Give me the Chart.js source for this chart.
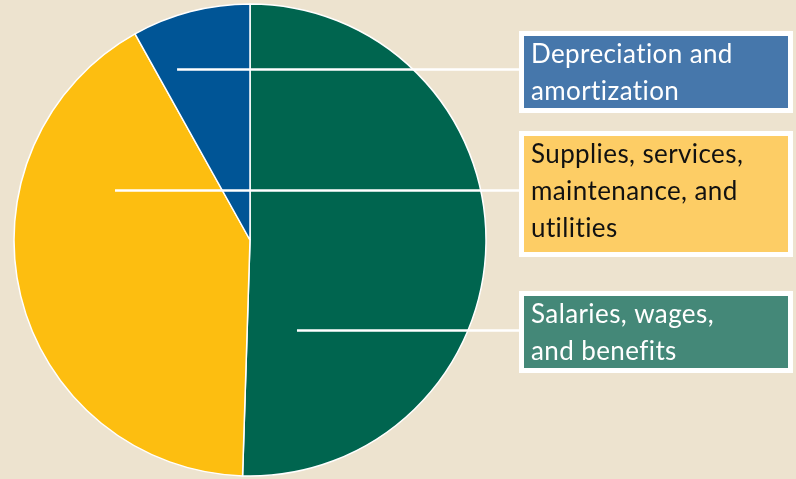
<!DOCTYPE html>
<html>
<head>
<meta charset="utf-8">
<script src="https://cdn.jsdelivr.net/npm/chart.js@4.4.1/dist/chart.umd.min.js"></script>
<style>
html, body { margin: 0; padding: 0; background: #ede3cf; overflow: hidden; }
#graph1 { display: block; }
</style>
</head>
<body>
<canvas id="graph1" width="796" height="479"></canvas>
<script>
// data (share of expenses, %)
var categories = [
    ['Salaries, wages,', 'and benefits'],
    ['Supplies, services,', 'maintenance, and', 'utilities'],
    ['Depreciation and', 'amortization']
];
var values = [50.5, 41.4, 8.1];

var sliceColors = ['#00654f', '#fdbe10', '#005596'];
var boxColors = ['#448878', '#fdcd65', '#4677ab'];
var textColors = ['#ffffff', '#111111', '#ffffff'];

// where the leader line starts inside each slice (relative to center, in radii) and box placement
var leaderStart = [[0.199, 0.381], [-0.572, -0.21], [-0.309, -0.725]];
var boxTop = [291, 131, 31];
var boxHeight = [82, 126, 82];

var calloutPlugin = {
    id: 'callouts',
    afterDraw: function (chart) {
        var c = chart.ctx;
        var arc = chart.getDatasetMeta(0).data[0];
        var cx = arc.x, cy = arc.y, r = arc.outerRadius;
        var boxLeft = 519, boxRight = 793, border = 5;
        c.save();
        for (var i = 0; i < values.length; i++) {
            var x0 = cx + leaderStart[i][0] * r;
            var y0 = Math.round(cy + leaderStart[i][1] * r) + 0.5;
            c.strokeStyle = '#ffffff';
            c.lineWidth = 2.5;
            c.beginPath();
            c.moveTo(x0, y0);
            c.lineTo(boxLeft, y0);
            c.stroke();

            c.fillStyle = '#ffffff';
            c.fillRect(boxLeft, boxTop[i], boxRight - boxLeft, boxHeight[i]);
            c.fillStyle = boxColors[i];
            c.fillRect(boxLeft + border, boxTop[i] + border, boxRight - boxLeft - 2 * border, boxHeight[i] - 2 * border);

            c.fillStyle = textColors[i];
            c.font = '26px Lato, "Open Sans", sans-serif';
            c.letterSpacing = '0.4px';
            c.textBaseline = 'alphabetic';
            c.textAlign = 'left';
            var lines = categories[i];
            for (var j = 0; j < lines.length; j++) {
                c.fillText(lines[j], 531, boxTop[i] + border + 27 + j * 37);
            }
        }
        c.restore();
    }
};

var ctx = document.getElementById("graph1").getContext("2d");

var config = {
    type: 'pie',
    data: {
        labels: categories,
        datasets: [{
            data: values,
            backgroundColor: sliceColors,
            borderColor: '#ffffff',
            borderWidth: 1.5,
            hoverOffset: 0
        }]
    },
    options: {
        responsive: false,
        animation: false,
        radius: 236,
        layout: {
            padding: { left: 14, right: 310, top: 4, bottom: 3 }
        },
        plugins: {
            legend: { display: false },
            tooltip: { enabled: false }
        }
    },
    plugins: [calloutPlugin]
};

var graph1 = new Chart(ctx, config);
</script>
</body>
</html>
